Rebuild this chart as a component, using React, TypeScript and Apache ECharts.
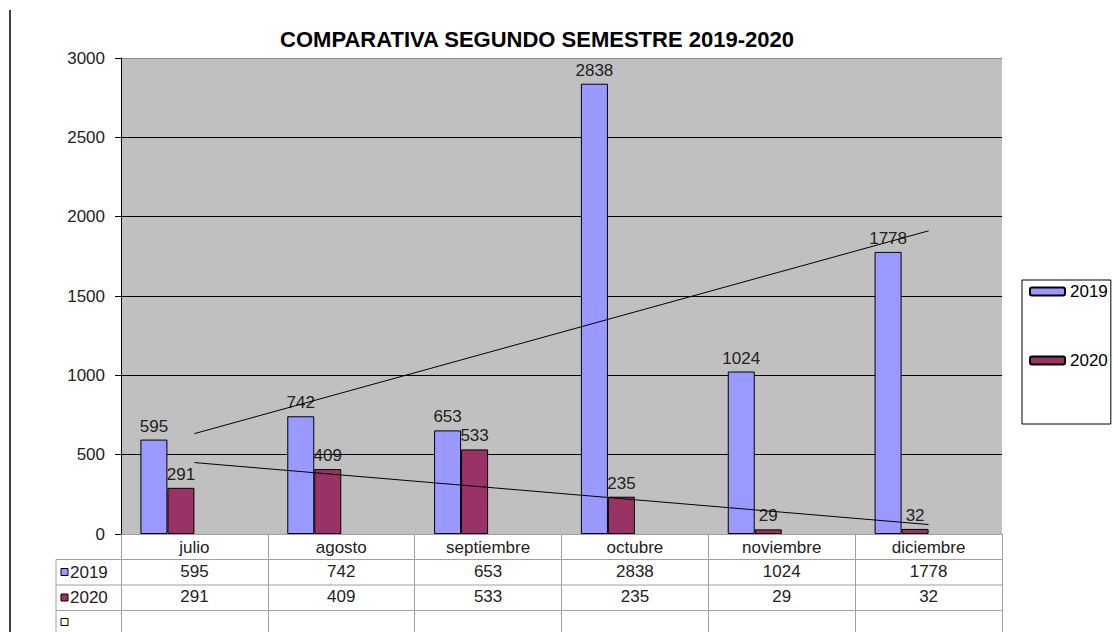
import React, { useEffect, useRef } from "react";
import * as echarts from "echarts";

const months = ["julio", "agosto", "septiembre", "octubre", "noviembre", "diciembre"];
const values2019 = [595, 742, 653, 2838, 1024, 1778];
const values2020 = [291, 409, 533, 235, 29, 32];
const seriesNames = ["2019", "2020"];
const yTicks = { min: 0, max: 3000, interval: 500 };

const FONT = "Liberation Sans, Arial, sans-serif";
const C2019 = "#9999FF";
const C2020 = "#993366";

function linearTrend(vals: number[]): number[] {
  const n = vals.length;
  const xs = vals.map((_, i) => i + 1);
  const mx = xs.reduce((a, b) => a + b, 0) / n;
  const my = vals.reduce((a, b) => a + b, 0) / n;
  let sxy = 0;
  let sxx = 0;
  for (let i = 0; i < n; i++) {
    sxy += (xs[i] - mx) * (vals[i] - my);
    sxx += (xs[i] - mx) * (xs[i] - mx);
  }
  const slope = sxy / sxx;
  return xs.map((x) => my + slope * (x - mx));
}

const GRID = { left: 121, right: 111, top: 58, bottom: 98 };
const W = 1113;
const H = 632;
const FS = 17;

export default function App() {
  const ref = useRef<HTMLDivElement>(null);
  useEffect(() => {
    if (!ref.current) return;
    const chart = echarts.init(ref.current, null, { renderer: "svg" });
    const plotRight = W - GRID.right;
    const bottomY = H - GRID.bottom;
    const rowH = 25.5;
    const lineCol = "#a0a0a0";
    const txt = "#222";
    const barLabel = {
      show: true,
      position: "top" as const,
      distance: 5,
      fontFamily: FONT,
      fontSize: FS,
      color: txt,
    };
    const option: any = {
      animation: false,
      textStyle: { fontFamily: FONT },
      title: {
        text: "COMPARATIVA SEGUNDO SEMESTRE 2019-2020",
        left: 532,
        textAlign: "center",
        top: 23,
        textStyle: { fontFamily: FONT, fontSize: 22, fontWeight: "bold", color: "#000" },
      },
      legend: {
        data: seriesNames,
        orient: "vertical",
        left: 1022,
        top: 280,
        itemWidth: 35,
        itemHeight: 8,
        itemGap: 52,
        padding: [3, 3, 55, 7],
        borderColor: "#000",
        borderWidth: 1,
        backgroundColor: "#fff",
        textStyle: { fontFamily: FONT, fontSize: FS, lineHeight: 17, color: "#000" },
        selectedMode: false,
      },
      grid: {
        left: GRID.left,
        right: GRID.right,
        top: GRID.top,
        bottom: GRID.bottom,
        show: true,
        backgroundColor: "#C0C0C0",
        borderWidth: 0,
      },
      xAxis: [
        {
          type: "category",
          data: months,
          position: "bottom",
          axisLine: { show: true, lineStyle: { color: lineCol, width: 1 } },
          axisTick: { show: true, length: 98, lineStyle: { color: lineCol, width: 1 } },
          axisLabel: { fontFamily: FONT, fontSize: FS, color: txt, margin: 5 },
          splitLine: { show: false },
        },
        {
          type: "category",
          data: values2019.map(String),
          position: "bottom",
          offset: 26,
          axisLine: { show: false },
          axisTick: { show: false },
          axisLabel: { fontFamily: FONT, fontSize: FS, color: txt, margin: 3 },
        },
        {
          type: "category",
          data: values2020.map(String),
          position: "bottom",
          offset: 51,
          axisLine: { show: false },
          axisTick: { show: false },
          axisLabel: { fontFamily: FONT, fontSize: FS, color: txt, margin: 3 },
        },
      ],
      yAxis: {
        type: "value",
        min: yTicks.min,
        max: yTicks.max,
        interval: yTicks.interval,
        axisLine: { show: true, lineStyle: { color: "#000", width: 1 } },
        axisTick: { show: true, inside: false, length: 6, lineStyle: { color: "#000" } },
        axisLabel: { fontFamily: FONT, fontSize: FS, color: txt, margin: 16, formatter: (v: number) => String(v) },
        splitLine: { show: true, showMaxLine: false, lineStyle: { color: "#000", width: 1 } },
      },
      series: [
        {
          name: seriesNames[0],
          type: "bar",
          data: values2019,
          barWidth: 27,
          barGap: "0%",
          itemStyle: { color: C2019, borderColor: "#000", borderWidth: 1 },
          label: barLabel,
          z: 2,
        },
        {
          name: seriesNames[1],
          type: "bar",
          data: values2020,
          barWidth: 27,
          barGap: "0%",
          itemStyle: { color: C2020, borderColor: "#000", borderWidth: 1 },
          label: barLabel,
          z: 2,
        },
        { name: "s3", type: "bar", data: months.map(() => "-"), barWidth: 27, barGap: "0%" },
        { name: "s4", type: "bar", data: months.map(() => "-"), barWidth: 27, barGap: "0%" },
        {
          name: "trend2019",
          type: "line",
          data: linearTrend(values2019),
          symbol: "none",
          lineStyle: { color: "#000", width: 1 },
          itemStyle: { color: "#000" },
          z: 5,
          silent: true,
        },
        {
          name: "trend2020",
          type: "line",
          data: linearTrend(values2020),
          symbol: "none",
          lineStyle: { color: "#000", width: 1 },
          itemStyle: { color: "#000" },
          z: 5,
          silent: true,
        },
      ],
      graphic: [
        { type: "line", shape: { x1: 10, y1: 10, x2: 10, y2: H }, style: { stroke: "#000", lineWidth: 1.5 } },
        { type: "line", shape: { x1: GRID.left, y1: GRID.top + 0.5, x2: plotRight, y2: GRID.top + 0.5 }, style: { stroke: "#888", lineWidth: 1 } },
        ...[1, 2, 3].map((k) => ({
          type: "line",
          shape: { x1: 56, y1: bottomY + rowH * k, x2: plotRight, y2: bottomY + rowH * k },
          style: { stroke: lineCol, lineWidth: 1 },
        })),
        { type: "line", shape: { x1: 56, y1: bottomY + rowH, x2: 56, y2: H }, style: { stroke: lineCol, lineWidth: 1 } },
        { type: "rect", shape: { x: 61, y: bottomY + rowH + 9, width: 7, height: 7 }, style: { fill: C2019, stroke: "#000", lineWidth: 1 } },
        { type: "text", x: 70, y: bottomY + rowH * 1.5, style: { text: seriesNames[0], font: FS + "px " + FONT, fill: txt, verticalAlign: "middle" } },
        { type: "rect", shape: { x: 61, y: bottomY + rowH * 2 + 9, width: 7, height: 7 }, style: { fill: C2020, stroke: "#000", lineWidth: 1 } },
        { type: "text", x: 70, y: bottomY + rowH * 2.5, style: { text: seriesNames[1], font: FS + "px " + FONT, fill: txt, verticalAlign: "middle" } },
        { type: "rect", shape: { x: 61, y: bottomY + rowH * 3 + 8, width: 7, height: 7 }, style: { fill: "#FFFFCC", stroke: "#000", lineWidth: 1 } },
      ],
    };
    chart.setOption(option);
    return () => chart.dispose();
  }, []);
  return (
    <div
      ref={ref}
      style={{ position: "fixed", left: 0, top: 0, width: W, height: H, background: "#fff" }}
    />
  );
}
